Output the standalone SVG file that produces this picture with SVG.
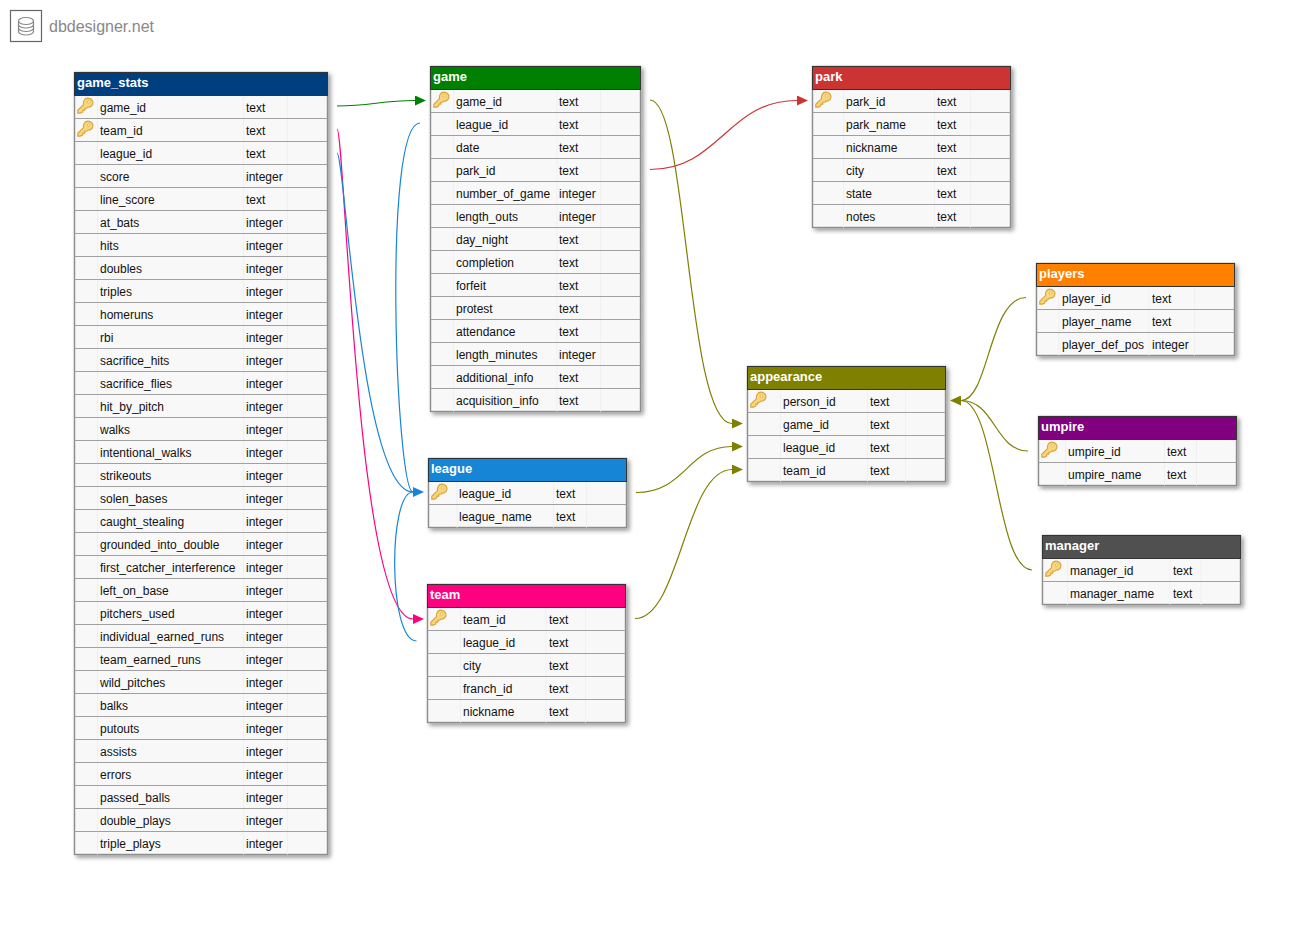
<svg xmlns="http://www.w3.org/2000/svg" width="1289" height="927" viewBox="0 0 1289 927">
<style>
text{font-family:"Liberation Sans",Arial,sans-serif;font-size:12px;fill:#111}
.h{font-weight:bold;font-size:13px;fill:#fff}
.logo{font-size:16px;fill:#888}
.frame{fill:#f8f8f8;stroke:#8c8c8c;stroke-width:1.4;filter:url(#sh)}
.rows{fill:none;stroke:#a0a0a0;stroke-width:1.2}
.cols{fill:none;stroke:#f0f0f0;stroke-width:1}
.hb{stroke:#333;stroke-width:1}
.c{fill:none;stroke-width:1.2}
</style>
<defs>
<filter id="sh" x="-10%" y="-10%" width="120%" height="120%"><feDropShadow dx="2.5" dy="2.5" stdDeviation="2" flood-color="#000" flood-opacity="0.4"/></filter>
<symbol id="key" width="17" height="17" viewBox="0 0 17 17" overflow="visible">
<path d="M10.8.6C13.6.6 16 2.8 16 5.3C16 8 13.5 9.8 10.8 9.6L9.6 10.8L7.8 10.8L7.8 12.6L5.8 12.6L5.8 14.4L3.4 15.6L.8 15.6L.8 12.8L6.5 7.1C5.9 3.4 8 .6 10.8.6Z" fill="#f8d77a" stroke="#d9a23c" stroke-width="1.1"/>
<circle cx="11.6" cy="4.4" r="1.4" fill="#fdf0b8" stroke="#e0ac4a" stroke-width=".7"/>
</symbol>
<marker id="a-green" markerUnits="userSpaceOnUse" markerWidth="11" markerHeight="10" refX="0" refY="5" orient="auto"><path d="M0 0L11 5L0 10Z" fill="#008000"/></marker>
<marker id="a-red" markerUnits="userSpaceOnUse" markerWidth="11" markerHeight="10" refX="0" refY="5" orient="auto"><path d="M0 0L11 5L0 10Z" fill="#cc3333"/></marker>
<marker id="a-blue" markerUnits="userSpaceOnUse" markerWidth="11" markerHeight="10" refX="0" refY="5" orient="auto"><path d="M0 0L11 5L0 10Z" fill="#1785d6"/></marker>
<marker id="a-pink" markerUnits="userSpaceOnUse" markerWidth="11" markerHeight="10" refX="0" refY="5" orient="auto"><path d="M0 0L11 5L0 10Z" fill="#ff0080"/></marker>
<marker id="a-olive" markerUnits="userSpaceOnUse" markerWidth="11" markerHeight="10" refX="0" refY="5" orient="auto"><path d="M0 0L11 5L0 10Z" fill="#808000"/></marker>
</defs>
<rect width="1289" height="927" fill="#fff"/>
<g id="logo">
<rect x="10.5" y="10.5" width="31" height="31" fill="#fff" stroke="#666" stroke-width="1.2"/>
<g fill="none" stroke="#888" stroke-width="1.2">
<ellipse cx="26" cy="21" rx="7.5" ry="3.5"/>
<path d="M18.5 21V31.5C18.5 33.5 22 35 26 35S33.5 33.5 33.5 31.5V21M18.5 24.5C18.5 26.5 22 28 26 28S33.5 26.500 33.5 24.5M18.5 28C18.5 30 22 31.5 26 31.5S33.5 30 33.5 28"/>
</g>
<text class="logo" x="49" y="31.500">dbdesigner.net</text>
</g>
<g id="connectors">
<path class="c" stroke="#008000" marker-end="url(#a-green)" d="M337 106C372 106 380 100.5 415 100.5"/>
<path class="c" stroke="#ff0080" marker-end="url(#a-pink)" d="M337 129C345 129 356 619 413 619"/>
<path class="c" stroke="#1785d6" marker-end="url(#a-blue)" d="M337 153C345 153 360 492 413 492"/>
<path class="c" stroke="#1785d6" d="M420 123C382 123 396 492 413 492"/>
<path class="c" stroke="#1785d6" d="M416.500 641C388 641 388 492 413 492"/>
<path class="c" stroke="#cc3333" marker-end="url(#a-red)" d="M650 169.500C720 169.500 727 100.500 797 100.500"/>
<path class="c" stroke="#808000" marker-end="url(#a-olive)" d="M650 100C688 100 686 423.500 732 423.500"/>
<path class="c" stroke="#808000" marker-end="url(#a-olive)" d="M636 492.500C686 492.500 687 446.500 732 446.500"/>
<path class="c" stroke="#808000" marker-end="url(#a-olive)" d="M635 618.500C680 618.500 685 469.500 732 469.500"/>
<path class="c" stroke="#808000" marker-end="url(#a-olive)" d="M1026 297.500C989 297.500 989 400.500 961 400.500"/>
<path class="c" stroke="#808000" d="M1028 451C995 451 995 400.500 961 400.500"/>
<path class="c" stroke="#808000" d="M1032 570C996 570 996 400.500 961 400.500"/>
</g>
<g id="game_stats" transform="translate(74.500,72.500)">
<rect class="frame" width="253" height="782"/>
<path class="cols" d="M23 23V782M169 23V782M213 23V782"/>
<path class="rows" d="M0 46H253M0 69H253M0 92H253M0 115H253M0 138H253M0 161H253M0 184H253M0 207H253M0 230H253M0 253H253M0 276H253M0 299H253M0 322H253M0 345H253M0 368H253M0 391H253M0 414H253M0 437H253M0 460H253M0 483H253M0 506H253M0 529H253M0 552H253M0 575H253M0 598H253M0 621H253M0 644H253M0 667H253M0 690H253M0 713H253M0 736H253M0 759H253"/>
<rect class="hb" width="253" height="23" fill="#003f7f"/>
<text class="h" x="2.500" y="14.500">game_stats</text>
<use href="#key" x="2.500" y="25"/><use href="#key" x="2.500" y="48"/>
<g transform="translate(25.500,39)">
<text y="0">game_id</text><text y="23">team_id</text><text y="46">league_id</text><text y="69">score</text><text y="92">line_score</text><text y="115">at_bats</text><text y="138">hits</text><text y="161">doubles</text><text y="184">triples</text><text y="207">homeruns</text><text y="230">rbi</text><text y="253">sacrifice_hits</text><text y="276">sacrifice_flies</text><text y="299">hit_by_pitch</text><text y="322">walks</text><text y="345">intentional_walks</text><text y="368">strikeouts</text><text y="391">solen_bases</text><text y="414">caught_stealing</text><text y="437">grounded_into_double</text><text y="460">first_catcher_interference</text><text y="483">left_on_base</text><text y="506">pitchers_used</text><text y="529">individual_earned_runs</text><text y="552">team_earned_runs</text><text y="575">wild_pitches</text><text y="598">balks</text><text y="621">putouts</text><text y="644">assists</text><text y="667">errors</text><text y="690">passed_balls</text><text y="713">double_plays</text><text y="736">triple_plays</text>
</g>
<g transform="translate(171.500,39)">
<text y="0">text</text><text y="23">text</text><text y="46">text</text><text y="69">integer</text><text y="92">text</text><text y="115">integer</text><text y="138">integer</text><text y="161">integer</text><text y="184">integer</text><text y="207">integer</text><text y="230">integer</text><text y="253">integer</text><text y="276">integer</text><text y="299">integer</text><text y="322">integer</text><text y="345">integer</text><text y="368">integer</text><text y="391">integer</text><text y="414">integer</text><text y="437">integer</text><text y="460">integer</text><text y="483">integer</text><text y="506">integer</text><text y="529">integer</text><text y="552">integer</text><text y="575">integer</text><text y="598">integer</text><text y="621">integer</text><text y="644">integer</text><text y="667">integer</text><text y="690">integer</text><text y="713">integer</text><text y="736">integer</text>
</g>
</g>
<g id="game" transform="translate(430.500,66.500)">
<rect class="frame" width="210" height="345"/>
<path class="cols" d="M23 23V345M126.500 23V345M170 23V345"/>
<path class="rows" d="M0 46H210M0 69H210M0 92H210M0 115H210M0 138H210M0 161H210M0 184H210M0 207H210M0 230H210M0 253H210M0 276H210M0 299H210M0 322H210"/>
<rect class="hb" width="210" height="23" fill="#008000"/>
<text class="h" x="2.500" y="14.500">game</text>
<use href="#key" x="2.500" y="25"/>
<g transform="translate(25.500,39)">
<text y="0">game_id</text><text y="23">league_id</text><text y="46">date</text><text y="69">park_id</text><text y="92">number_of_game</text><text y="115">length_outs</text><text y="138">day_night</text><text y="161">completion</text><text y="184">forfeit</text><text y="207">protest</text><text y="230">attendance</text><text y="253">length_minutes</text><text y="276">additional_info</text><text y="299">acquisition_info</text>
</g>
<g transform="translate(128.500,39)">
<text y="0">text</text><text y="23">text</text><text y="46">text</text><text y="69">text</text><text y="92">integer</text><text y="115">integer</text><text y="138">text</text><text y="161">text</text><text y="184">text</text><text y="207">text</text><text y="230">text</text><text y="253">integer</text><text y="276">text</text><text y="299">text</text>
</g>
</g>
<g id="park" transform="translate(812.500,66.500)">
<rect class="frame" width="198" height="161"/>
<path class="cols" d="M31 23V161M122 23V161M158 23V161"/>
<path class="rows" d="M0 46H198M0 69H198M0 92H198M0 115H198M0 138H198"/>
<rect class="hb" width="198" height="23" fill="#cc3333"/>
<text class="h" x="2.500" y="14.500">park</text>
<use href="#key" x="2.500" y="25"/>
<g transform="translate(33.500,39)"><text y="0">park_id</text><text y="23">park_name</text><text y="46">nickname</text><text y="69">city</text><text y="92">state</text><text y="115">notes</text></g>
<g transform="translate(124.500,39)"><text y="0">text</text><text y="23">text</text><text y="46">text</text><text y="69">text</text><text y="92">text</text><text y="115">text</text></g>
</g>
<g id="players" transform="translate(1036.500,263.500)">
<rect class="frame" width="198" height="92"/>
<path class="cols" d="M22.500 23V92M112.500 23V92M158 23V92"/>
<path class="rows" d="M0 46H198M0 69H198"/>
<rect class="hb" width="198" height="23" fill="#ff8000"/>
<text class="h" x="2.500" y="14.500">players</text>
<use href="#key" x="2.500" y="25"/>
<g transform="translate(25.500,39)"><text y="0">player_id</text><text y="23">player_name</text><text y="46">player_def_pos</text></g>
<g transform="translate(115.500,39)"><text y="0">text</text><text y="23">text</text><text y="46">integer</text></g>
</g>
<g id="appearance" transform="translate(747.500,366.500)">
<rect class="frame" width="198" height="115"/>
<path class="cols" d="M33 23V115M120 23V115M158 23V115"/>
<path class="rows" d="M0 46H198M0 69H198M0 92H198"/>
<rect class="hb" width="198" height="23" fill="#808000"/>
<text class="h" x="2.500" y="14.500">appearance</text>
<use href="#key" x="2.500" y="25"/>
<g transform="translate(35.500,39)"><text y="0">person_id</text><text y="23">game_id</text><text y="46">league_id</text><text y="69">team_id</text></g>
<g transform="translate(122.500,39)"><text y="0">text</text><text y="23">text</text><text y="46">text</text><text y="69">text</text></g>
</g>
<g id="umpire" transform="translate(1038.500,416.500)">
<rect class="frame" width="198" height="69"/>
<path class="cols" d="M27 23V69M126 23V69M158 23V69"/>
<path class="rows" d="M0 46H198"/>
<rect class="hb" width="198" height="23" fill="#800080"/>
<text class="h" x="2.500" y="14.500">umpire</text>
<use href="#key" x="2.500" y="25"/>
<g transform="translate(29.500,39)"><text y="0">umpire_id</text><text y="23">umpire_name</text></g>
<g transform="translate(128.500,39)"><text y="0">text</text><text y="23">text</text></g>
</g>
<g id="manager" transform="translate(1042.500,535.500)">
<rect class="frame" width="198" height="69"/>
<path class="cols" d="M25 23V69M127.500 23V69M158.500 23V69"/>
<path class="rows" d="M0 46H198"/>
<rect class="hb" width="198" height="23" fill="#505050"/>
<text class="h" x="2.500" y="14.500">manager</text>
<use href="#key" x="2.500" y="25"/>
<g transform="translate(27.500,39)"><text y="0">manager_id</text><text y="23">manager_name</text></g>
<g transform="translate(130.500,39)"><text y="0">text</text><text y="23">text</text></g>
</g>
<g id="league" transform="translate(428.500,458.500)">
<rect class="frame" width="198" height="69"/>
<path class="cols" d="M28.500 23V69M125 23V69M158 23V69"/>
<path class="rows" d="M0 46H198"/>
<rect class="hb" width="198" height="23" fill="#1785d6"/>
<text class="h" x="2.500" y="14.500">league</text>
<use href="#key" x="2.500" y="25"/>
<g transform="translate(30.500,39)"><text y="0">league_id</text><text y="23">league_name</text></g>
<g transform="translate(127.500,39)"><text y="0">text</text><text y="23">text</text></g>
</g>
<g id="team" transform="translate(427.500,584.500)">
<rect class="frame" width="198" height="138"/>
<path class="cols" d="M33 23V138M118.500 23V138M158 23V138"/>
<path class="rows" d="M0 46H198M0 69H198M0 92H198M0 115H198"/>
<rect class="hb" width="198" height="23" fill="#ff0080"/>
<text class="h" x="2.500" y="14.500">team</text>
<use href="#key" x="2.500" y="25"/>
<g transform="translate(35.500,39)"><text y="0">team_id</text><text y="23">league_id</text><text y="46">city</text><text y="69">franch_id</text><text y="92">nickname</text></g>
<g transform="translate(121.500,39)"><text y="0">text</text><text y="23">text</text><text y="46">text</text><text y="69">text</text><text y="92">text</text></g>
</g>
</svg>
